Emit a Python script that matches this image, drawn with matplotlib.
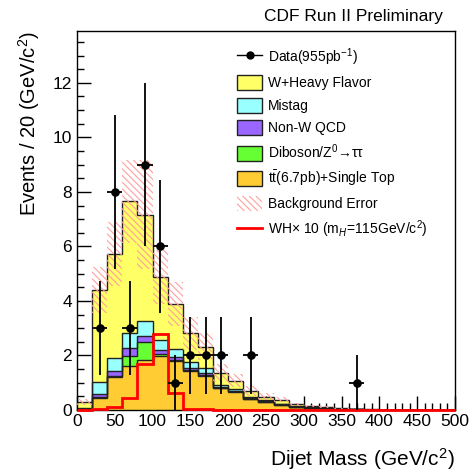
import numpy as np
import matplotlib
matplotlib.use("Agg")
import matplotlib.pyplot as plt
from matplotlib.patches import Patch
from matplotlib.lines import Line2D
from matplotlib.ticker import MultipleLocator

plt.rcParams['font.family'] = ['Liberation Sans', 'DejaVu Sans']
plt.rcParams['mathtext.fontset'] = 'custom'
plt.rcParams['mathtext.rm'] = 'Liberation Sans'
plt.rcParams['mathtext.it'] = 'Liberation Sans:italic'
plt.rcParams['mathtext.sf'] = 'Liberation Sans'
plt.rcParams['hatch.linewidth'] = 0.8

# ---- data (bins of 20 GeV/c^2 from 0 to 500) ----
bin_edges = np.arange(0, 520, 20)
top_single = [0.04, 0.45, 1.22, 1.60, 1.83, 1.98, 1.80, 1.43, 1.25, 0.80, 0.66, 0.40, 0.30,
              0.19, 0.10, 0.08, 0.06, 0.03, 0.02, 0.01, 0.01, 0.005, 0.005, 0.003, 0.003]
diboson = [0.00, 0.02, 0.03, 0.38, 0.65, 0.08, 0.04, 0.03, 0.03, 0.02, 0.02, 0.01, 0.01,
           0.01, 0.01, 0.005, 0.005, 0.005, 0.0, 0.0, 0.0, 0.0, 0.0, 0.0, 0.0]
non_w_qcd = [0.01, 0.13, 0.18, 0.28, 0.25, 0.14, 0.09, 0.07, 0.09, 0.03, 0.03, 0.02, 0.02,
             0.01, 0.01, 0.005, 0.005, 0.005, 0.0, 0.0, 0.0, 0.0, 0.0, 0.0, 0.0]
mistag = [0.02, 0.43, 0.47, 0.55, 0.52, 0.37, 0.30, 0.24, 0.18, 0.07, 0.05, 0.04, 0.02,
          0.02, 0.01, 0.01, 0.01, 0.005, 0.005, 0.0, 0.0, 0.0, 0.0, 0.0, 0.0]
w_heavy_flavor = [0.23, 3.37, 3.82, 4.84, 3.91, 2.30, 1.67, 1.04, 0.77, 0.43, 0.32, 0.23, 0.14,
                  0.14, 0.08, 0.05, 0.04, 0.015, 0.01, 0.01, 0.005, 0.005, 0.005, 0.0, 0.0]
bkg_error = [0.10, 0.86, 1.19, 1.52, 2.00, 1.00, 0.81, 0.61, 0.50, 0.32, 0.25, 0.18, 0.12,
             0.09, 0.06, 0.04, 0.03, 0.02, 0.01, 0.01, 0.005, 0.005, 0.0, 0.0, 0.0]
wh_x10 = [0.00, 0.04, 0.10, 0.45, 1.69, 2.78, 0.64, 0.05, 0.02, 0.01, 0.01, 0.0, 0.0,
          0.0, 0.0, 0.0, 0.0, 0.0, 0.0, 0.0, 0.0, 0.0, 0.0, 0.0, 0.0]
data_counts = [0, 3, 8, 3, 9, 6, 1, 2, 2, 2, 0, 2, 0, 0, 0, 0, 0, 0, 1, 0, 0, 0, 0, 0, 0]

labels = ["Data(955pb$^{-1}$)", "W+Heavy Flavor", "Mistag", "Non-W QCD",
          "Diboson/Z$^{0}$→ττ", "t$\\bar{\\mathrm{t}}$(6.7pb)+Single Top",
          "Background Error", "WH$\\times$ 10 (m$_{H}$=115GeV/c$^{2}$)"]

c_yellow = '#FFFF66'
c_cyan = '#99FFFF'
c_purple = '#9966FF'
c_green = '#66FF33'
c_orange = '#FFCC33'
c_hatch = '#FFA0A0'

fig = plt.figure(figsize=(4.72, 4.73), dpi=100)
ax = fig.add_axes([77/472, 1-410/473, (455-77)/472, (410-31)/473])

comps = [top_single, diboson, non_w_qcd, mistag, w_heavy_flavor]
colors = [c_orange, c_green, c_purple, c_cyan, c_yellow]
cum = np.cumsum(np.array(comps, dtype=float), axis=0)

for lvl in range(len(comps) - 1, -1, -1):
    ax.stairs(cum[lvl], bin_edges, fill=True, color=colors[lvl], baseline=0, zorder=2)
    ax.stairs(cum[lvl], bin_edges, color='#222222', lw=1.0, baseline=None, zorder=2.5)

total = cum[-1]
err = np.array(bkg_error)
up = np.append(total + err, (total + err)[-1])
lo = np.append(np.clip(total - err, 0, None), np.clip(total - err, 0, None)[-1])
ax.fill_between(bin_edges, lo, up, step='post', facecolor='none', edgecolor=c_hatch,
                hatch='\\\\\\\\\\', linewidth=0, zorder=3)

ax.stairs(wh_x10, bin_edges, color='red', lw=2.0, baseline=None, zorder=4, clip_on=False)

centers = 0.5 * (bin_edges[:-1] + bin_edges[1:])
dc = np.array(data_counts, dtype=float)
m = dc > 0
ax.errorbar(centers[m], dc[m], yerr=np.sqrt(dc[m]), xerr=10, fmt='o', color='black',
            ms=5.2, elinewidth=1.3, capsize=0, zorder=5)

ax.set_xlim(0, 500)
ax.set_ylim(0, 13.9)
ax.xaxis.set_major_locator(MultipleLocator(50))
ax.xaxis.set_minor_locator(MultipleLocator(10))
ax.yaxis.set_major_locator(MultipleLocator(2))
ax.yaxis.set_minor_locator(MultipleLocator(0.5))
ax.tick_params(which='both', direction='in', top=False, right=False, labelsize=12.5, width=1)
ax.tick_params(which='major', length=10)
ax.tick_params(which='minor', length=5)
ax.tick_params(axis='x', pad=3)
for s in ax.spines.values():
    s.set_linewidth(1.0)

ax.set_xlabel("Dijet Mass (GeV/c$^{2}$)", fontsize=15, loc='right', labelpad=12)
ax.set_ylabel("Events / 20 (GeV/c$^{2}$)", fontsize=14.5, loc='top', labelpad=8)

fig.text(443/472, 1-17/473, "CDF Run II Preliminary", fontsize=12.5, ha='right', va='center')

handles = [
    Line2D([0], [0], color='black', marker='o', ms=5, lw=1.0),
    Patch(facecolor=c_yellow, edgecolor='#222222', lw=1),
    Patch(facecolor=c_cyan, edgecolor='#222222', lw=1),
    Patch(facecolor=c_purple, edgecolor='#222222', lw=1),
    Patch(facecolor=c_green, edgecolor='#222222', lw=1),
    Patch(facecolor=c_orange, edgecolor='#222222', lw=1),
    Patch(facecolor='none', edgecolor=c_hatch, hatch='\\\\\\\\\\', lw=0),
    Line2D([0], [0], color='red', lw=2),
]
leg = ax.legend(handles, labels, loc='upper left', bbox_to_anchor=((237 - 77) / 378, 1 - 15 / 379),
                frameon=False, fontsize=10, handlelength=1.8, handleheight=1.3,
                labelspacing=0.53, handletextpad=0.45, borderaxespad=0, borderpad=0)

fig.savefig('out.png', dpi=100)
